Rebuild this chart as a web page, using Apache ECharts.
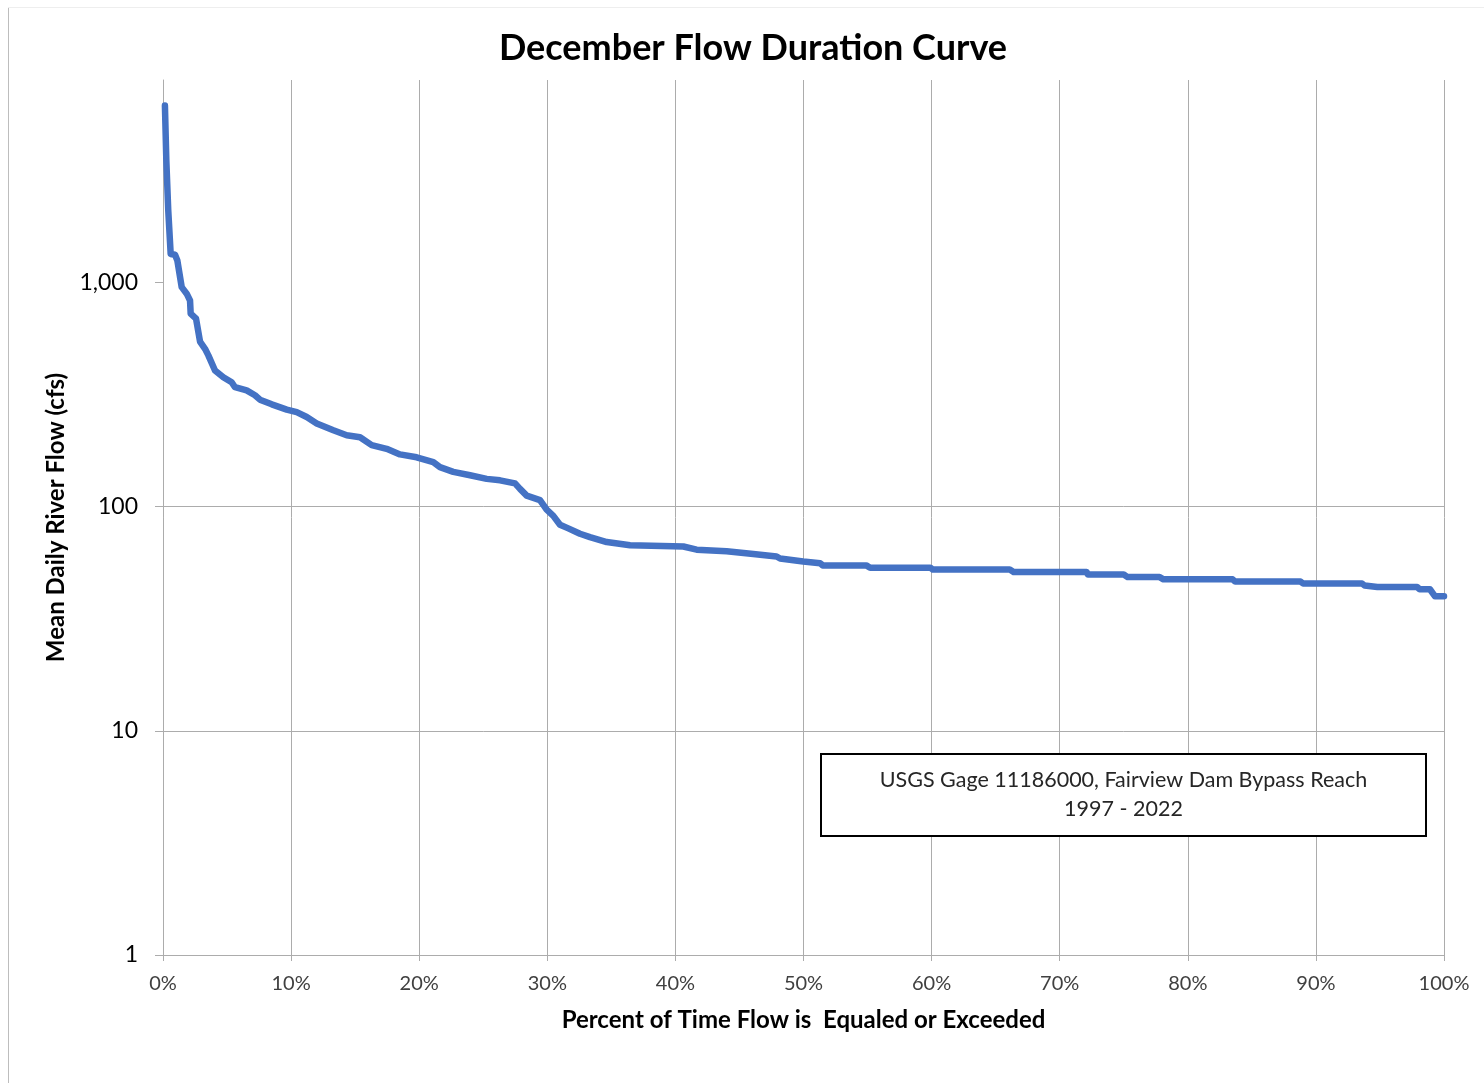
<!DOCTYPE html>
<html>
<head>
<meta charset="utf-8">
<title>December Flow Duration Curve</title>
<script src="https://cdn.jsdelivr.net/npm/echarts@6/dist/echarts.min.js"></script>
<style>
  html, body { margin: 0; padding: 0; background: #ffffff; }
  #chart { width: 1484px; height: 1083px; }
</style>
</head>
<body>
<div id="chart"></div>
<script>
// Percent of time each flow is equaled or exceeded (%)
const pctExceeded = [
  0.15, 0.26, 0.41, 0.60, 0.94, 1.12, 1.46, 1.85, 2.11, 2.16, 2.58, 2.89, 3.28, 3.54,
  4.06, 4.71, 5.36, 5.62, 6.53, 7.18, 7.57, 8.49, 9.66, 10.44, 11.22, 12.0, 13.3,
  14.34, 15.38, 16.29, 17.46, 18.50, 19.80, 21.10, 21.62, 22.66, 23.97, 25.27, 26.31,
  27.48, 27.87, 28.39, 29.43, 29.95, 30.47, 30.99, 31.64, 32.55, 33.33, 34.64, 36.46,
  40.62, 41.66, 44.0, 46.08, 47.9, 48.17, 49.98, 51.3, 51.5, 54.9, 55.2, 59.9, 60.1,
  66.1, 66.4, 72.1, 72.2, 75.0, 75.3, 77.8, 78.1, 83.5, 83.7, 88.8, 89.0, 93.6, 93.8,
  94.8, 97.9, 98.1, 98.9, 99.3, 100
];
// Mean daily river flow (cfs)
const flowCfs = [
  6150, 3500, 2094, 1340, 1330, 1254, 953, 891, 831, 726, 689, 545, 506, 473,
  405, 378, 359, 341, 330, 314, 300, 286, 271, 264, 251, 235, 219,
  208, 204, 188, 181, 171, 166, 158, 150, 143, 138, 133, 131,
  127, 120, 112, 107, 97, 91, 83, 80, 75.7, 73.1, 69.5, 67.2,
  66.4, 64.3, 63.3, 61.5, 59.9, 58.7, 56.9, 55.9, 54.7, 54.7, 53.4, 53.4, 52.4,
  52.4, 51.1, 51.1, 49.8, 49.8, 48.5, 48.5, 47.4, 47.4, 46.3, 46.3, 45.4, 45.4, 44.5,
  43.8, 43.8, 42.8, 42.8, 39.8, 39.8
];
// Axis tick labels
const xTickValues = [0, 10, 20, 30, 40, 50, 60, 70, 80, 90, 100];
const yTickValues = [1, 10, 100, 1000];

const chartTitle = 'December Flow Duration Curve';
const xAxisTitle = 'Percent of Time Flow is  Equaled or Exceeded';
const yAxisTitle = 'Mean Daily River Flow (cfs)';
const noteLines = ['USGS Gage 11186000, Fairview Dam Bypass Reach', '1997 - 2022'];

const FONT = 'Lato, "Open Sans", sans-serif';
const GRID_COLOR = '#acacac';

const chart = echarts.init(document.getElementById('chart'), null, { renderer: 'canvas' });

const seriesData = pctExceeded.map((p, i) => [p, flowCfs[i]]);

chart.setOption({
  backgroundColor: '#ffffff',
  animation: false,
  grid: { left: 163, right: 40, top: 80, bottom: 128, containLabel: false },
  xAxis: {
    type: 'value',
    min: 0,
    max: 100,
    interval: 10,
    name: xAxisTitle,
    nameLocation: 'middle',
    nameGap: 53,
    nameTextStyle: { fontFamily: FONT, fontWeight: 'bold', fontSize: 24, color: '#000000' },
    axisLine: { show: true, lineStyle: { color: GRID_COLOR, width: 1 } },
    axisTick: { show: true, length: 6, lineStyle: { color: GRID_COLOR } },
    axisLabel: {
      margin: 19,
      fontFamily: FONT, fontSize: 20, color: '#404040',
      formatter: v => xTickValues.includes(v) ? v + '%' : ''
    },
    splitLine: { show: true, lineStyle: { color: GRID_COLOR, width: 1 } }
  },
  yAxis: {
    type: 'log',
    logBase: 10,
    min: 1,
    max: 8000,
    name: yAxisTitle,
    nameLocation: 'middle',
    nameGap: 94,
    nameRotate: 90,
    nameTextStyle: { fontFamily: FONT, fontWeight: 'bold', fontSize: 24, color: '#000000' },
    axisLine: { show: true, lineStyle: { color: GRID_COLOR, width: 1 } },
    axisTick: { show: true, length: 8, lineStyle: { color: GRID_COLOR }, customValues: yTickValues },
    axisLabel: {
      margin: 25,
      fontFamily: FONT, fontSize: 23, color: '#000000',
      customValues: yTickValues,
      formatter: v => Math.round(v).toLocaleString('en-US')
    },
    splitLine: { show: true, showMaxLine: false, lineStyle: { color: GRID_COLOR, width: 1 } }
  },
  series: [{
    type: 'line',
    data: seriesData,
    showSymbol: false,
    symbol: 'none',
    smooth: false,
    lineStyle: { color: '#4472C4', width: 6.5, cap: 'round', join: 'round' }
  }],
  graphic: [
    // outer frame edges
    { type: 'line', shape: { x1: 8.5, y1: 7, x2: 8.5, y2: 1083 }, style: { stroke: '#bdbdbd', lineWidth: 1 }, silent: true },
    { type: 'line', shape: { x1: 8, y1: 7.5, x2: 1484, y2: 7.5 }, style: { stroke: '#eeeeee', lineWidth: 1 }, silent: true },
    // chart title
    {
      type: 'text',
      x: 753, y: 48,
      style: {
        text: chartTitle,
        fontFamily: FONT, fontWeight: 'bold', fontSize: 36,
        fill: '#000000', align: 'center', verticalAlign: 'middle'
      }
    },
    // station note box
    {
      type: 'rect',
      shape: { x: 821, y: 754, width: 605, height: 82 },
      style: { fill: '#ffffff', stroke: '#000000', lineWidth: 2 },
      z: 10
    },
    {
      type: 'text',
      x: 1123.5, y: 795,
      z: 11,
      style: {
        text: noteLines.join('\n'),
        fontFamily: FONT, fontSize: 21.5, lineHeight: 29,
        fill: '#262626', align: 'center', verticalAlign: 'middle'
      }
    }
  ]
});
</script>
</body>
</html>
